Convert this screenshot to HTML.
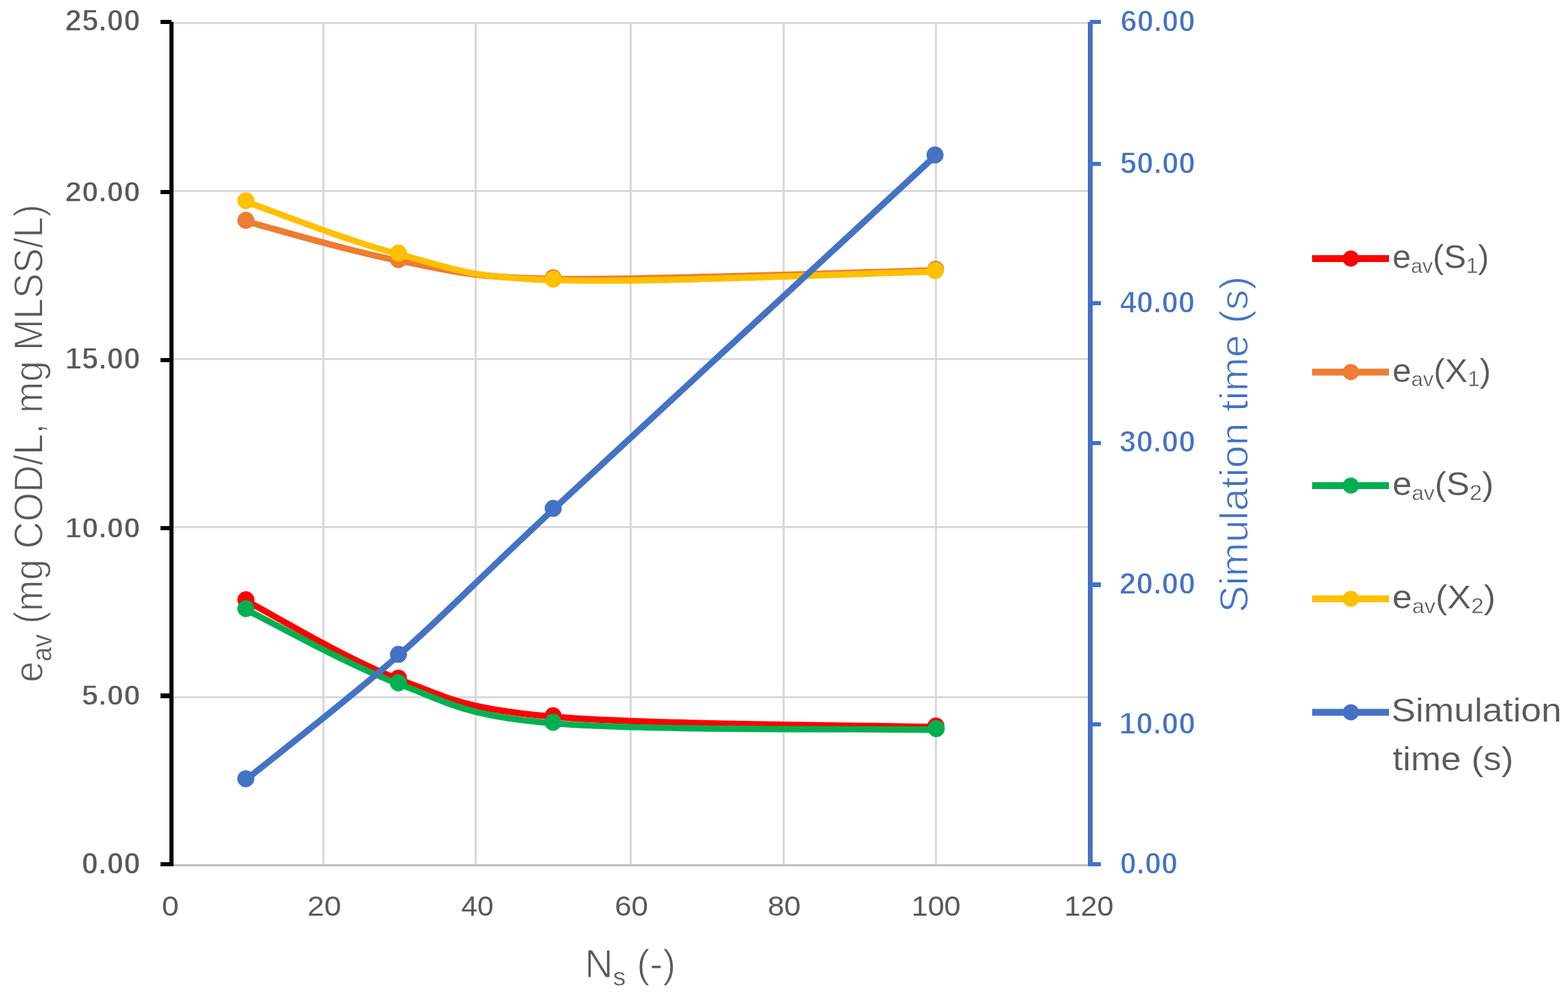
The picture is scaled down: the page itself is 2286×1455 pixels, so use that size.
<!DOCTYPE html>
<html><head><meta charset="utf-8"><title>Chart</title>
<style>
html,body{margin:0;padding:0;background:#fff;overflow:hidden;}
svg{display:block;}
text{font-family:"Liberation Sans",Arial,sans-serif;}
.yl{font-weight:bold;fill:#595959;font-size:40px;stroke:#fff;stroke-width:1.2px;}
.yr{font-weight:bold;fill:#4472C4;font-size:40px;stroke:#fff;stroke-width:1.2px;}
.xl{fill:#595959;font-size:39px;}
.lg{fill:#595959;font-size:48.5px;stroke:#fff;stroke-width:0.2px;}
.tt{fill:#595959;font-size:57px;stroke:#fff;stroke-width:1.1px;}
.tt2{fill:#595959;font-size:60px;stroke:#fff;stroke-width:1.3px;}
.tr{fill:#4472C4;font-size:57px;stroke:#fff;stroke-width:1.1px;}
</style></head><body>
<svg width="2286" height="1455" viewBox="0 0 2286 1455">
<rect x="0" y="0" width="2286" height="1455" fill="#fff"/>
<rect x="253" y="32" width="1333" height="3" fill="#D9D9D9"/>
<rect x="253" y="277" width="1333" height="3" fill="#D9D9D9"/>
<rect x="253" y="522" width="1333" height="3" fill="#D9D9D9"/>
<rect x="253" y="767" width="1333" height="3" fill="#D9D9D9"/>
<rect x="253" y="1015" width="1333" height="3" fill="#D9D9D9"/>
<rect x="470" y="32" width="3" height="1228" fill="#D9D9D9"/>
<rect x="692" y="32" width="3" height="1228" fill="#D9D9D9"/>
<rect x="918" y="32" width="3" height="1228" fill="#D9D9D9"/>
<rect x="1141" y="32" width="3" height="1228" fill="#D9D9D9"/>
<rect x="1363" y="32" width="3" height="1228" fill="#D9D9D9"/>
<rect x="247" y="1260" width="1340" height="3" fill="#BFBFBF"/>
<rect x="247" y="32" width="6" height="1231" fill="#000"/>
<rect x="234" y="29" width="16" height="6" fill="#000"/>
<rect x="234" y="277" width="16" height="6" fill="#000"/>
<rect x="234" y="522" width="16" height="6" fill="#000"/>
<rect x="234" y="767" width="16" height="6" fill="#000"/>
<rect x="234" y="1011" width="16" height="7" fill="#000"/>
<rect x="234" y="1257" width="16" height="6" fill="#000"/>
<rect x="1586" y="32" width="7" height="1231" fill="#4472C4"/>
<rect x="1589" y="29" width="16" height="6" fill="#4472C4"/>
<rect x="1589" y="236" width="16" height="6" fill="#4472C4"/>
<rect x="1589" y="439" width="16" height="6" fill="#4472C4"/>
<rect x="1589" y="643" width="16" height="6" fill="#4472C4"/>
<rect x="1589" y="849" width="16" height="7" fill="#4472C4"/>
<rect x="1589" y="1053" width="16" height="6" fill="#4472C4"/>
<rect x="1589" y="1257" width="16" height="6" fill="#4472C4"/>
<text class="yl" transform="matrix(1.0969,0,0,1.1000,94.81,45.47)">25.00</text>
<text class="yl" transform="matrix(1.0969,0,0,1.0808,94.81,293.71)">20.00</text>
<text class="yl" transform="matrix(1.0979,0,0,1.1000,94.71,538.47)">15.00</text>
<text class="yl" transform="matrix(1.0979,0,0,1.0808,94.71,783.70)">10.00</text>
<text class="yl" transform="matrix(1.1068,0,0,1.0654,118.73,1027.86)">5.00</text>
<text class="yl" transform="matrix(1.1068,0,0,1.1077,118.73,1273.69)">0.00</text>
<text class="yr" transform="matrix(1.0906,0,0,1.1115,1633.45,45.69)">60.00</text>
<text class="yr" transform="matrix(1.1000,0,0,1.0923,1632.75,252.51)">50.00</text>
<text class="yr" transform="matrix(1.0938,0,0,1.1077,1632.70,455.90)">40.00</text>
<text class="yr" transform="matrix(1.1105,0,0,1.1038,1631.72,659.47)">30.00</text>
<text class="yr" transform="matrix(1.1105,0,0,1.1115,1631.72,866.11)">20.00</text>
<text class="yr" transform="matrix(1.1117,0,0,1.1077,1631.61,1069.69)">10.00</text>
<text class="yr" transform="matrix(1.0822,0,0,1.1077,1632.79,1273.69)">0.00</text>
<text class="xl" transform="matrix(1.1389,0,0,1.0296,236.04,1335.39)">0</text>
<text class="xl" transform="matrix(1.1410,0,0,1.0296,447.97,1335.39)">20</text>
<text class="xl" transform="matrix(1.0854,0,0,1.0296,672.39,1335.39)">40</text>
<text class="xl" transform="matrix(1.1250,0,0,1.0296,896.18,1335.39)">60</text>
<text class="xl" transform="matrix(1.1125,0,0,1.0296,1119.15,1335.39)">80</text>
<text class="xl" transform="matrix(1.1066,0,0,1.0296,1328.63,1335.39)">100</text>
<text class="xl" transform="matrix(1.1066,0,0,1.0296,1551.42,1335.39)">120</text>
<text class="tt" transform="matrix(1.0041,0,0,1.0000,852.38,1424.70)">N<tspan font-size="37" dy="12.6" stroke-width="0.35">s</tspan><tspan dy="-12.6"> (-)</tspan></text>
<text class="lg" transform="matrix(1.0030,0,0,1.0000,2029.99,391.20)">e<tspan font-size="30" dy="6.5" stroke-width="0.35">av</tspan><tspan dy="-6.5">(S</tspan><tspan font-size="31" dy="6.5" stroke-width="0.35">1</tspan><tspan dy="-6.5">)</tspan></text>
<text class="lg" transform="matrix(1.0237,0,0,1.0000,2029.95,556.70)">e<tspan font-size="30" dy="6.5" stroke-width="0.35">av</tspan><tspan dy="-6.5">(X</tspan><tspan font-size="31" dy="6.5" stroke-width="0.35">1</tspan><tspan dy="-6.5">)</tspan></text>
<text class="lg" transform="matrix(1.0511,0,0,1.0000,2029.90,722.20)">e<tspan font-size="30" dy="6.5" stroke-width="0.35">av</tspan><tspan dy="-6.5">(S</tspan><tspan font-size="31" dy="6.5" stroke-width="0.35">2</tspan><tspan dy="-6.5">)</tspan></text>
<text class="lg" transform="matrix(1.0719,0,0,1.0000,2029.86,887.20)">e<tspan font-size="30" dy="6.5" stroke-width="0.35">av</tspan><tspan dy="-6.5">(X</tspan><tspan font-size="31" dy="6.5" stroke-width="0.35">2</tspan><tspan dy="-6.5">)</tspan></text>
<text class="lg" transform="matrix(1.0982,0,0,1.0000,2028.13,1052.40)">Simulation</text>
<text class="lg" transform="matrix(1.0905,0,0,1.0000,2030.33,1122.50)">time (s)</text>
<text class="tt2" transform="matrix(0,-0.9127,1.0000,0,61.80,994.74)">e<tspan font-size="41" dy="13" stroke-width="0.35">av</tspan><tspan dy="-13"> (mg COD/L, mg MLSS/L)</tspan></text>
<text class="tr" transform="matrix(0,-1.0399,1.0000,0,1818.60,893.14)">Simulation time (s)</text>
<path d="M358.5,874.4 C395.6,893.5 506.3,960.5 580.9,988.7 C655.5,1016.9 675.7,1031.8 806.3,1043.4 C936.9,1055.0 1271.5,1055.9 1364.5,1058.4" fill="none" stroke="#FF0000" stroke-width="9.2" stroke-linejoin="round" stroke-linecap="round" transform="translate(0.2,1.5)"/>
<circle cx="358.5" cy="874.4" r="12.4" fill="#FF0000"/>
<circle cx="580.9" cy="988.7" r="12.4" fill="#FF0000"/>
<circle cx="806.3" cy="1043.4" r="12.4" fill="#FF0000"/>
<circle cx="1364.5" cy="1058.4" r="12.4" fill="#FF0000"/>
<path d="M358.5,321.2 C395.6,330.8 506.4,364.5 581.0,378.5 C655.6,392.5 675.9,402.7 806.4,405.0 C936.9,407.3 1271.1,394.6 1364.0,392.5" fill="none" stroke="#ED7D31" stroke-width="9.2" stroke-linejoin="round" stroke-linecap="round" transform="translate(0.2,1.5)"/>
<circle cx="358.5" cy="321.2" r="12.4" fill="#ED7D31"/>
<circle cx="581.0" cy="378.5" r="12.4" fill="#ED7D31"/>
<circle cx="806.4" cy="405.0" r="12.4" fill="#ED7D31"/>
<circle cx="1364.0" cy="392.5" r="12.4" fill="#ED7D31"/>
<path d="M358.5,887.3 C395.6,905.3 506.3,967.9 580.9,995.5 C655.5,1023.1 675.6,1041.9 806.3,1053.0 C937.0,1064.1 1271.9,1060.8 1365.0,1062.3" fill="none" stroke="#00B050" stroke-width="9.2" stroke-linejoin="round" stroke-linecap="round" transform="translate(0.2,1.5)"/>
<circle cx="358.5" cy="887.3" r="12.4" fill="#00B050"/>
<circle cx="580.9" cy="995.5" r="12.4" fill="#00B050"/>
<circle cx="806.3" cy="1053.0" r="12.4" fill="#00B050"/>
<circle cx="1365.0" cy="1062.3" r="12.4" fill="#00B050"/>
<path d="M358.5,292.6 C395.6,305.3 506.3,349.9 581.0,369.0 C655.7,388.1 676.1,402.8 806.5,407.0 C936.9,411.2 1270.7,396.6 1363.5,394.5" fill="none" stroke="#FFC000" stroke-width="9.2" stroke-linejoin="round" stroke-linecap="round" transform="translate(0.2,1.5)"/>
<circle cx="358.5" cy="292.6" r="12.4" fill="#FFC000"/>
<circle cx="581.0" cy="369.0" r="12.4" fill="#FFC000"/>
<circle cx="806.5" cy="407.0" r="12.4" fill="#FFC000"/>
<circle cx="1363.5" cy="394.5" r="12.4" fill="#FFC000"/>
<path d="M358.4,1135.3 C395.5,1105.1 506.2,1019.6 580.9,953.9 C655.6,888.2 676.1,862.5 806.5,741.2 C936.9,619.9 1270.4,311.8 1363.2,225.9" fill="none" stroke="#4472C4" stroke-width="9.2" stroke-linejoin="round" stroke-linecap="round" transform="translate(0.2,1.5)"/>
<circle cx="358.4" cy="1135.3" r="12.4" fill="#4472C4"/>
<circle cx="580.9" cy="953.9" r="12.4" fill="#4472C4"/>
<circle cx="806.5" cy="741.2" r="12.4" fill="#4472C4"/>
<circle cx="1363.2" cy="225.9" r="12.4" fill="#4472C4"/>
<rect x="1913" y="372.0" width="112" height="10" fill="#FF0000"/>
<circle cx="1969.4" cy="377.0" r="11.8" fill="#FF0000"/>
<rect x="1913" y="537.5" width="112" height="10" fill="#ED7D31"/>
<circle cx="1969.4" cy="542.5" r="11.8" fill="#ED7D31"/>
<rect x="1913" y="703.0" width="112" height="10" fill="#00B050"/>
<circle cx="1969.4" cy="708.0" r="11.8" fill="#00B050"/>
<rect x="1913" y="868.0" width="112" height="10" fill="#FFC000"/>
<circle cx="1969.4" cy="873.0" r="11.8" fill="#FFC000"/>
<rect x="1913" y="1033.5" width="112" height="10" fill="#4472C4"/>
<circle cx="1969.4" cy="1038.5" r="11.8" fill="#4472C4"/>
</svg>
</body></html>
